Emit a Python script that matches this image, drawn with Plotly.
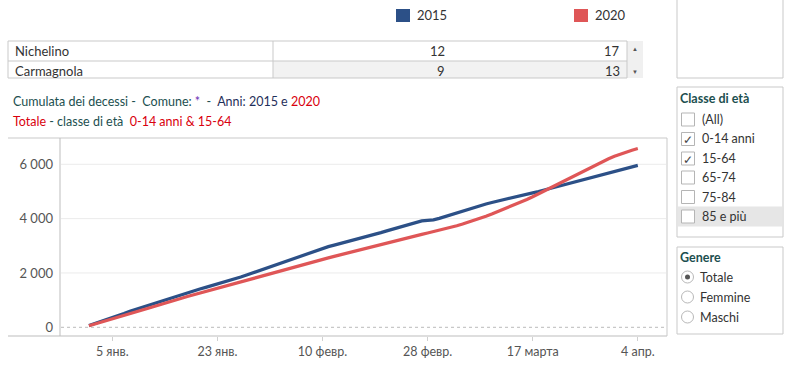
import pandas as pd
import plotly.graph_objects as go

# ---------------- data ----------------
start_date = "2020-01-01"
cum_2015 = [70, 140, 210, 275, 350, 430, 510, 590, 660, 740,
            810, 880, 950, 1020, 1090, 1150, 1215, 1280, 1350, 1410,
            1470, 1530, 1590, 1650, 1715, 1780, 1850, 1925, 2000, 2075,
            2150, 2225, 2300, 2375, 2455, 2530, 2610, 2690, 2770, 2845,
            2910, 2970, 3025, 3080, 3135, 3190, 3245, 3305, 3365, 3425,
            3485, 3550, 3615, 3675, 3740, 3800, 3860, 3915, 3935, 3955,
            4010, 4080, 4150, 4220, 4290, 4355, 4420, 4480, 4540, 4595,
            4650, 4700, 4750, 4800, 4850, 4900, 4950, 5000, 5055, 5115,
            5175, 5235, 5290, 5345, 5400, 5455, 5510, 5565, 5620, 5675,
            5735, 5790, 5845, 5900, 5960]
cum_2020 = [60, 120, 180, 240, 310, 375, 440, 505, 565, 625,
            690, 760, 830, 895, 960, 1020, 1080, 1140, 1200, 1260,
            1310, 1370, 1440, 1500, 1560, 1615, 1675, 1740, 1805, 1865,
            1925, 1980, 2035, 2090, 2140, 2200, 2260, 2320, 2380, 2440,
            2500, 2555, 2610, 2665, 2720, 2770, 2830, 2890, 2945, 3000,
            3060, 3115, 3165, 3215, 3265, 3320, 3370, 3420, 3470, 3520,
            3572, 3625, 3680, 3738, 3800, 3866, 3936, 4010, 4090, 4172,
            4256, 4342, 4430, 4520, 4612, 4707, 4805, 4912, 5030, 5140,
            5250, 5360, 5470, 5580, 5690, 5800, 5905, 6010, 6110, 6205,
            6295, 6380, 6455, 6520, 6580]
dates = pd.date_range(start_date, periods=len(cum_2015))

x_tick_vals = ["2020-01-05", "2020-01-23", "2020-02-10", "2020-02-28", "2020-03-17", "2020-04-04"]
x_tick_text = ["5 янв.", "23 янв.", "10 февр.", "28 февр.", "17 марта", "4 апр."]
y_tick_vals = [0, 2000, 4000, 6000]
y_tick_text = ["0", "2 000", "4 000", "6 000"]

series_names = ["2015", "2020"]
comuni = ["Nichelino", "Carmagnola"]
tab_2015 = [12, 9]
tab_2020 = [17, 13]

classi = ["(All)", "0-14 anni", "15-64", "65-74", "75-84", "85 e più"]
classi_checked = [False, True, True, False, False, False]
generi = ["Totale", "Femmine", "Maschi"]
genere_sel = "Totale"

# ---------------- styles ----------------
W, H = 790, 369
BLUE = "#2c5087"
RED = "#df5657"
BORDER = "#c9c9c9"
TEAL = "#1c4f4f"
TXT = "#333333"
FONT = "Lato"


def px(x):
    return x / W


def py(y):
    return 1 - y / H


fig = go.Figure()
for name, vals, col in [(series_names[0], cum_2015, BLUE), (series_names[1], cum_2020, RED)]:
    fig.add_trace(go.Scatter(x=dates, y=vals, mode="lines", name=name,
                             line=dict(color=col, width=3.2), showlegend=False))

shapes = []
ann = []


def rect(x0, y0, x1, y1, fill="rgba(0,0,0,0)", line=BORDER, lw=1):
    shapes.append(dict(type="rect", xref="paper", yref="paper",
                       x0=px(x0), x1=px(x1), y0=py(y0), y1=py(y1),
                       fillcolor=fill, line=dict(color=line, width=lw), layer="above"))


def hline(x0, x1, y, color=BORDER):
    shapes.append(dict(type="line", xref="paper", yref="paper",
                       x0=px(x0), x1=px(x1), y0=py(y), y1=py(y),
                       line=dict(color=color, width=1)))


def vline(x, y0, y1, color=BORDER):
    shapes.append(dict(type="line", xref="paper", yref="paper",
                       x0=px(x), x1=px(x), y0=py(y0), y1=py(y1),
                       line=dict(color=color, width=1)))


def text(x, y, s, size=12.5, color=TXT, anchor="left", bold=False):
    if bold:
        s = "<b>" + s + "</b>"
    ann.append(dict(xref="paper", yref="paper", x=px(x), y=py(y), text=s,
                    showarrow=False, xanchor=anchor, yanchor="middle",
                    font=dict(family=FONT, size=size, color=color)))


# top-right empty box
rect(677, -2, 783, 78, fill="white")

# legend
rect(396, 9, 410, 22, fill=BLUE, line=BLUE, lw=0)
text(415, 15.5, series_names[0], size=13)
rect(574, 9, 588, 22, fill=RED, line=RED, lw=0)
text(593, 15.5, series_names[1], size=13)

# table
rect(273, 61, 627, 78, fill="#f2f2f2", line="#f2f2f2", lw=0)
rect(627, 41, 643, 78, fill="#f0f0f0", line="#f0f0f0", lw=0)
rect(8, 41, 627, 78)
hline(8, 627, 61)
vline(273, 41, 78)
row_y = [51, 71]
for i, c in enumerate(comuni):
    text(13, row_y[i], c, size=13)
    text(447, row_y[i], str(tab_2015[i]), size=13, anchor="right")
    text(622, row_y[i], str(tab_2020[i]), size=13, anchor="right")
text(635, 49, "▲", size=6, color="#555", anchor="center")
text(635, 71, "▼", size=6, color="#555", anchor="center")

# titles
title1 = (f"<span style='color:{TEAL}'>Cumulata dei decessi -  Comune: </span>"
          "<span style='color:#6b2fb3'>*</span>"
          f"<span style='color:{TEAL}'>  -  </span>"
          "<span style='color:#1f2f5a'>Anni: 2015 e </span>"
          "<span style='color:#d9000d'>2020</span>")
title2 = ("<span style='color:#d9000d'>Totale</span>"
          f"<span style='color:{TEAL}'> - classe di età  </span>"
          "<span style='color:#d9000d'>0-14 anni &amp; 15-64</span>")
text(11, 102, title1, size=12.5)
text(11, 121, title2, size=12.5)

# chart frame
hline(8, 667, 138)
hline(8, 667, 336, color="#bdbdbd")
vline(60, 138, 336, color="#bdbdbd")
vline(667, 138, 336)

# grid lines and dotted zero line
for v in y_tick_vals:
    shapes.append(dict(type="line", xref="paper", yref="y",
                       x0=px(61), x1=px(666), y0=v, y1=v, layer="below",
                       line=dict(color="#bbbbbb" if v == 0 else "#ebebeb",
                                 width=1, dash="dot" if v == 0 else "solid")))

# Classe di età filter
rect(677, 87, 783, 237)
rect(678, 206.5, 782, 226.5, fill="#e6e6e6", line="#e6e6e6", lw=0)
text(678, 98, "Classe di età", size=12.5, color=TEAL, bold=True)
cls_y = [119.5, 139, 158.5, 177.5, 197, 216.5]
for lab, chk, yy in zip(classi, classi_checked, cls_y):
    rect(681.5, yy - 6.5, 694.5, yy + 6.5, fill="white", line="#b5b5b5")
    if chk:
        text(688, yy + 0.5, "✓", size=12, color="#444", anchor="center")
    text(700, yy, lab, size=12.5)

# Genere filter
rect(677, 247, 783, 334)
text(678, 257, "Genere", size=12.5, color=TEAL, bold=True)
gen_y = [277, 297, 317]
for lab, yy in zip(generi, gen_y):
    shapes.append(dict(type="circle", xref="paper", yref="paper",
                       x0=px(681.5), x1=px(693.5), y0=py(yy + 6), y1=py(yy - 6),
                       fillcolor="white", line=dict(color="#b8b8b8", width=1)))
    if lab == genere_sel:
        shapes.append(dict(type="circle", xref="paper", yref="paper",
                           x0=px(685), x1=px(690), y0=py(yy + 2.5), y1=py(yy - 2.5),
                           fillcolor="#555", line=dict(color="#555", width=0)))
    text(698, yy, lab, size=12.5)

fig.update_layout(
    width=W, height=H,
    margin=dict(l=0, r=0, t=0, b=0),
    paper_bgcolor="white", plot_bgcolor="white",
    font=dict(family=FONT, size=12, color=TXT),
    shapes=shapes, annotations=ann,
    xaxis=dict(domain=[px(60), px(667)],
               range=["2019-12-27 01:00", "2020-04-09"],
               tickvals=x_tick_vals, ticktext=x_tick_text,
               ticks="outside", ticklen=4, tickcolor="#d0d0d0",
               showgrid=False, zeroline=False, showline=False,
               tickfont=dict(family=FONT, size=12.5, color="#555")),
    yaxis=dict(domain=[py(336), py(138)],
               range=[-320, 6968],
               tickvals=y_tick_vals, ticktext=y_tick_text,
               ticks="", showgrid=False, zeroline=False, showline=False,
               ticklabelstandoff=6,
               tickfont=dict(family=FONT, size=13, color="#555")),
)

fig.write_html("out.html", config={"displayModeBar": False},
               post_script="document.body.style.margin='0px';document.body.style.overflow='hidden';")
